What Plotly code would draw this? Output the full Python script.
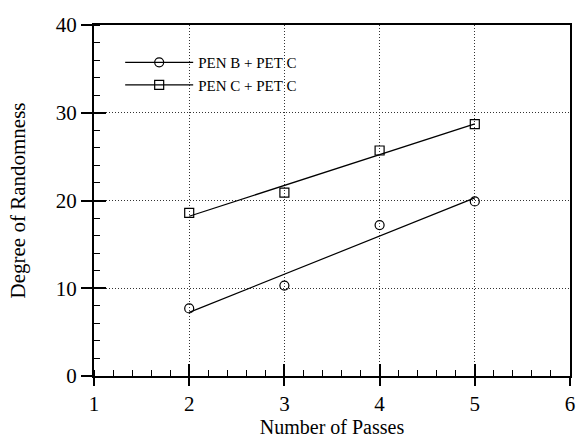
import numpy as np
import plotly.graph_objects as go

passes = [2, 3, 4, 5]
pen_b_pet_c = [7.7, 10.3, 17.2, 19.9]
pen_c_pet_c = [18.6, 20.9, 25.7, 28.7]
series_names = ["PEN B + PET C", "PEN C + PET C"]
symbols = ["circle-open", "square-open"]

FONT = "Liberation Serif, Times New Roman, serif"

fig = go.Figure()
for name, ys, sym in zip(series_names, [pen_b_pet_c, pen_c_pet_c], symbols):
    xs = np.array(passes, dtype=float)
    slope, icpt = np.polyfit(xs, np.array(ys), 1)
    xf = np.array([passes[0], passes[-1]], dtype=float)
    fig.add_trace(go.Scatter(x=xf, y=slope * xf + icpt, mode="lines",
                             line=dict(color="black", width=1.2),
                             showlegend=False, hoverinfo="skip"))
    fig.add_trace(go.Scatter(x=passes, y=ys, mode="markers",
                             marker=dict(symbol=sym, size=9, color="black",
                                         line=dict(width=1.2, color="black")),
                             showlegend=False))
    fig.add_trace(go.Scatter(x=[None], y=[None], mode="lines+markers", name=name,
                             line=dict(color="black", width=1.2),
                             marker=dict(symbol=sym, size=9, color="black",
                                         line=dict(width=1.2, color="black"))))

# invisible trace for overlay axes
fig.add_trace(go.Scatter(x=[None], y=[None], xaxis="x2", yaxis="y2", showlegend=False))

GRID = dict(showgrid=True, gridcolor="#333333", gridwidth=1, griddash="1px,2px")

fig.update_layout(
    width=579, height=438,
    margin=dict(l=94, r=4, t=25, b=58),
    paper_bgcolor="white", plot_bgcolor="white",
    font=dict(family=FONT, color="black", size=21),
    showlegend=True,
    legend=dict(x=0.055, y=0.94, xanchor="left", yanchor="top",
                bgcolor="rgba(0,0,0,0)", font=dict(size=15, family=FONT),
                itemwidth=68, tracegroupgap=0),
    xaxis=dict(range=[1, 6], dtick=1, tick0=1,
               showline=True, linecolor="black", linewidth=2, mirror=True,
               ticks="outside", ticklen=8, tickwidth=1.5, tickcolor="black",
               minor=dict(dtick=0.2, ticks="inside", ticklen=6, tickwidth=1.2,
                          tickcolor="black", showgrid=False),
               zeroline=False, tickfont=dict(size=21),
               title=dict(text="Number of Passes", font=dict(size=20), standoff=4),
               **GRID),
    yaxis=dict(range=[0, 40], dtick=10, tick0=0,
               showline=True, linecolor="black", linewidth=2, mirror=True,
               ticks="outside", ticklen=11, tickwidth=1.5, tickcolor="black",
               minor=dict(dtick=2, ticks="inside", ticklen=6, tickwidth=1.2,
                          tickcolor="black", showgrid=False),
               zeroline=False, tickfont=dict(size=21),
               title=dict(text="Degree of Randomness", font=dict(size=21), standoff=24),
               **GRID),
    xaxis2=dict(range=[1, 6], dtick=1, tick0=1, overlaying="x", side="bottom",
                ticks="inside", ticklen=12, tickwidth=1.5, tickcolor="black",
                showticklabels=False, showgrid=False, zeroline=False, showline=False),
    yaxis2=dict(range=[0, 40], dtick=10, tick0=0, overlaying="y", side="left",
                ticks="inside", ticklen=12, tickwidth=1.5, tickcolor="black",
                showticklabels=False, showgrid=False, zeroline=False, showline=False),
)

fig.write_html("out.html")
